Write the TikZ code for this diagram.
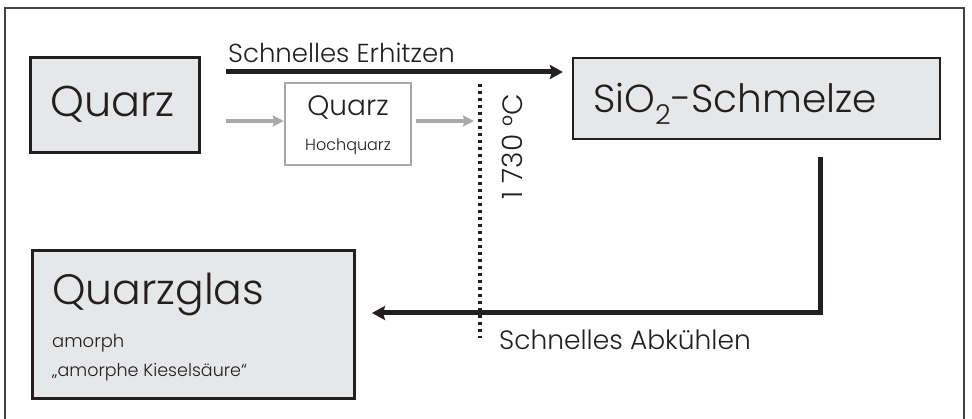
\documentclass[tikz,border=0pt]{standalone}
\usepackage{fontspec}
\setmainfont{Poppins Light}
\usetikzlibrary{arrows.meta}
\definecolor{ink}{HTML}{231F20}
\definecolor{boxfill}{HTML}{E6E7E8}
\definecolor{grayline}{HTML}{A7A9AC}
\begin{document}
\begin{tikzpicture}[x=1pt,y=-1pt,
  txt/.style={anchor=base west,inner sep=0pt,text=ink},
  mainbox/.style={draw=ink,fill=boxfill,inner sep=0pt},
  hqbox/.style={draw=grayline,fill=white,line width=2.5pt,inner sep=0pt},
  blackarrow/.style={draw=ink,line width=5pt,-{Stealth[length=13pt,width=14pt,inset=2pt]}},
  grayarrow/.style={draw=grayline,line width=3.2pt,-{Stealth[length=11pt,width=11pt,inset=1.5pt]}},
  limit/.style={draw=ink,line width=3.2pt,dash pattern=on 3pt off 4pt}
]
\useasboundingbox (0,0) rectangle (972,419);
% outer frame
\draw[ink!85,line width=1.5pt] (5,440) -- (5,8) -- (964,8) -- (964,440);
% boxes
\node[mainbox,line width=3pt,minimum width=169pt,minimum height=95pt] (q) at (114.5,105.5) {};
\node[hqbox,minimum width=126pt,minimum height=82pt] (hq) at (348,124) {};
\node[mainbox,line width=2.2pt,minimum width=367pt,minimum height=81pt] (sio) at (756.5,98.5) {};
\node[mainbox,line width=3pt,minimum width=322pt,minimum height=148pt] (qg) at (193,325) {};
% texts
\node[txt,font=\fontsize{43}{43}\selectfont] (tq) at (50,117) {Quarz};
\node[txt,font=\fontsize{26}{26}\selectfont] (terh) at (228,63) {Schnelles Erhitzen};
\node[txt,anchor=base,font=\fontsize{28}{28}\selectfont] (thq1) at (348,116) {Quarz};
\node[txt,anchor=base,font=\fontsize{16}{16}\selectfont] (thq2) at (348,151) {Hochquarz};
\node[txt,font=\fontsize{39}{39}\selectfont] (tsio) at (593,113) {SiO\textsubscript{2}-Schmelze};
\node[txt,rotate=90,font=\fontsize{28}{28}\selectfont] (ttemp) at (522,200) {1\hspace{0.3em}730 °C};
\node[txt,font=\fontsize{42.5}{42.5}\selectfont] (tqg) at (52,305) {Quarzglas};
\node[txt,font=\fontsize{18}{18}\selectfont] (tam) at (52,348) {amorph};
\node[txt,font=\fontsize{17.5}{17.5}\selectfont] (tki) at (52,377) {„amorphe Kieselsäure“};
\node[txt,font=\fontsize{26.5}{26.5}\selectfont] (tab) at (499,350) {Schnelles Abkühlen};
% connectors
\coordinate (e1) at (226,72);
\draw[blackarrow] (e1) -- ([xshift=-9pt]sio.west |- e1);
\coordinate (g1) at (226,121);
\coordinate (g2) at (474,121);
\draw[grayarrow] (g1) -- (hq.west |- g1);
\draw[grayarrow] ([xshift=4pt]hq.east |- g1) -- (g2);
\coordinate (k1) at (820,157);
\coordinate (k2) at (372,313);
\draw[blackarrow] (k1) |- (k2);
\coordinate (d1) at (480,84);
\coordinate (d2) at (480,338);
\draw[limit] (d1) -- (d2);
\end{tikzpicture}
\end{document}
